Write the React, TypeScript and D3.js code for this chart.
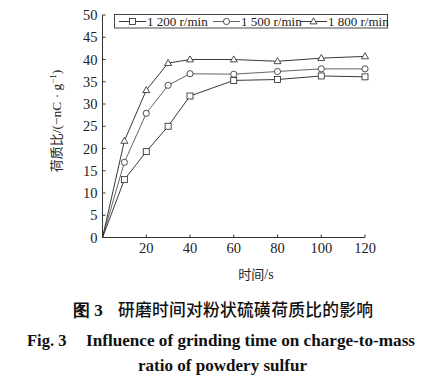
import React from 'react';
import * as d3 from 'd3';

const times = [0, 10, 20, 30, 40, 60, 80, 100, 120];
const q1200 = [0, 13.0, 19.3, 25.0, 31.8, 35.3, 35.5, 36.3, 36.1];
const q1500 = [0, 16.9, 27.9, 34.2, 36.8, 36.7, 37.3, 37.9, 37.9];
const q1800 = [0, 21.7, 33.1, 39.2, 40.0, 40.0, 39.6, 40.3, 40.7];
const seriesNames = ['1 200 r/min', '1 500 r/min', '1 800 r/min'];
const xTicks = [20, 40, 60, 80, 100, 120];
const yTicks = [0, 5, 10, 15, 20, 25, 30, 35, 40, 45, 50];

const serif = '"Liberation Serif", "Times New Roman", serif';
const cjk = '"Noto Sans CJK SC", sans-serif';

type Shape = 'square' | 'circle' | 'triangle';

function Marker({ x, y, shape }: { x: number; y: number; shape: Shape }) {
  const common = { fill: '#fff', stroke: '#222', strokeWidth: 0.8 };
  if (shape === 'square') return <rect x={x - 3} y={y - 3} width={6} height={6} {...common} />;
  if (shape === 'circle') return <circle cx={x} cy={y} r={3.1} {...common} />;
  return <path d={`M${x},${y - 3.6}L${x + 3.5},${y + 2.4}L${x - 3.5},${y + 2.4}Z`} {...common} />;
}

export default function App() {
  const width = 438;
  const height = 385;
  const x = d3.scaleLinear().domain([0, 120]).range([102.5, 365]);
  const y = d3.scaleLinear().domain([0, 50]).range([237.5, 15]);

  const series = [
    { name: seriesNames[0], values: q1200, shape: 'square' as Shape, color: '#222' },
    { name: seriesNames[1], values: q1500, shape: 'circle' as Shape, color: '#555' },
    { name: seriesNames[2], values: q1800, shape: 'triangle' as Shape, color: '#222' },
  ];

  const line = d3
    .line<number>()
    .x((_, i) => x(times[i]))
    .y((d) => y(d));

  // legend item positions (line start)
  const legendX = [119, 213, 300];

  return (
    <svg width={width} height={height} style={{ display: 'block', position: 'absolute', left: 0, top: 0, background: '#fff' }}>
      {/* axes */}
      <line x1={x(0)} x2={x(0)} y1={y(50)} y2={y(0)} stroke="#333" strokeWidth={1} />
      <line x1={x(0)} x2={x(120)} y1={y(0)} y2={y(0)} stroke="#333" strokeWidth={1} />
      {yTicks.map((t) => (
        <g key={'y' + t}>
          <line x1={x(0)} x2={x(0) + 3} y1={y(t)} y2={y(t)} stroke="#333" strokeWidth={1} />
          <text x={x(0) - 5} y={y(t) + 5} textAnchor="end" fontFamily={serif} fontSize={14.5} fill="#222">
            {t}
          </text>
        </g>
      ))}
      {xTicks.map((t) => (
        <g key={'x' + t}>
          <line x1={x(t)} x2={x(t)} y1={y(0)} y2={y(0) - 3} stroke="#333" strokeWidth={1} />
          <text x={x(t)} y={253} textAnchor="middle" fontFamily={serif} fontSize={14.5} fill="#222">
            {t}
          </text>
        </g>
      ))}

      {/* axis titles */}
      <text x={256} y={279} textAnchor="middle" fontSize={13} fill="#222">
        <tspan fontFamily={cjk}>时间</tspan>
        <tspan fontFamily={serif} fontSize={14}>/s</tspan>
      </text>
      <text transform="translate(61,121) rotate(-90)" textAnchor="middle" fontSize={13} fill="#222">
        <tspan fontFamily={cjk}>荷质比</tspan>
        <tspan fontFamily={serif} fontSize={13.5}>/(−nC · g</tspan>
        <tspan fontFamily={serif} fontSize={9} dy={-5}>−1</tspan>
        <tspan fontFamily={serif} fontSize={13.5} dy={5}>)</tspan>
      </text>

      {/* series */}
      {series.map((s) => (
        <g key={s.name}>
          <path d={line(s.values) ?? ''} fill="none" stroke={s.color} strokeWidth={0.9} />
          {s.values.map((v, i) =>
            i === 0 ? null : <Marker key={i} x={x(times[i])} y={y(v)} shape={s.shape} />
          )}
        </g>
      ))}

      {/* legend */}
      <rect x={114.5} y={14.5} width={273} height={13.5} fill="#fff" stroke="#333" strokeWidth={0.9} />
      {series.map((s, i) => (
        <g key={'lg' + s.name}>
          <line x1={legendX[i]} x2={legendX[i] + 27} y1={21.5} y2={21.5} stroke={s.color} strokeWidth={0.9} />
          <Marker x={legendX[i] + 13.5} y={21.5} shape={s.shape} />
          <text x={legendX[i] + 28} y={26} fontFamily={serif} fontSize={13} fill="#222">
            {s.name}
          </text>
        </g>
      ))}

      {/* caption */}
      <text x={73} y={316} fontFamily={serif} fontWeight={700} fontSize={17} fill="#111">
        图 3
      </text>
      <text x={118} y={316} fontFamily={cjk} fontSize={16.8} fontWeight={500} fill="#111" textLength={255} lengthAdjust="spacing">
        研磨时间对粉状硫磺荷质比的影响
      </text>
      <text x={27} y={346} fontFamily={serif} fontSize={16.5} fontWeight={700} fill="#111">
        Fig. 3
      </text>
      <text x={86} y={346} fontFamily={serif} fontSize={16.5} fontWeight={700} fill="#111" textLength={329} lengthAdjust="spacingAndGlyphs">
        Influence of grinding time on charge-to-mass
      </text>
      <text x={138} y={371} fontFamily={serif} fontSize={16.5} fontWeight={700} fill="#111" textLength={169} lengthAdjust="spacingAndGlyphs">
        ratio of powdery sulfur
      </text>
    </svg>
  );
}
